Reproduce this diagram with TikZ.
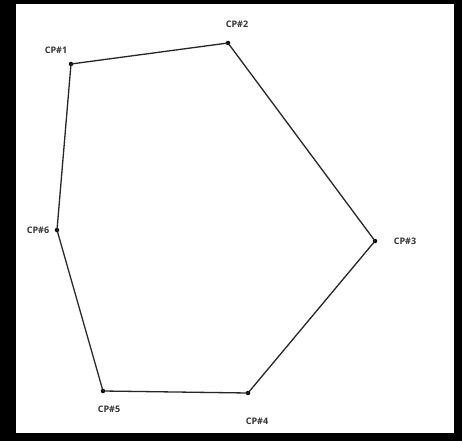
\documentclass[tikz,border=0pt]{standalone}
\usepackage{fontspec}
\setmainfont{Open Sans}
\begin{document}
\begin{tikzpicture}[x=1pt,y=-1pt,
  cp/.style={circle,fill=black,inner sep=0pt,minimum size=4.5pt},
  lbl/.style={font=\fontsize{9}{11}\selectfont\bfseries,text=black!80,inner sep=0pt},
  edge/.style={draw=black!85,line width=1.3pt}]
\fill[black] (0,0) rectangle (462,441);
\useasboundingbox (0,0) rectangle (462,441);
\fill[white] (16,4) rectangle (454,433);
\node[cp] (p1) at (71,64) {};
\node[cp] (p2) at (228,43) {};
\node[cp] (p3) at (375,241) {};
\node[cp] (p4) at (248,393) {};
\node[cp] (p5) at (103,391) {};
\node[cp] (p6) at (57,230) {};
\node[lbl] (l1) at (56,50) {CP\#1};
\node[lbl] (l2) at (237,24) {CP\#2};
\node[lbl] (l3) at (405,241) {CP\#3};
\node[lbl] (l4) at (257,421) {CP\#4};
\node[lbl] (l5) at (109,409) {CP\#5};
\node[lbl] (l6) at (38,230) {CP\#6};
\draw[edge] (p1.center) -- (p2.center) -- (p3.center) -- (p4.center) -- (p5.center) -- (p6.center) -- cycle;
\end{tikzpicture}
\end{document}
